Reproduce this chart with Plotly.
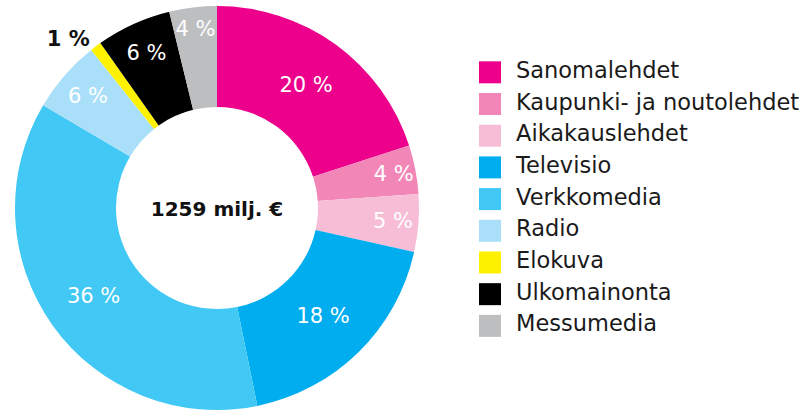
import plotly.graph_objects as go

categories = ["Sanomalehdet", "Kaupunki- ja noutolehdet", "Aikakauslehdet", "Televisio",
              "Verkkomedia", "Radio", "Elokuva", "Ulkomainonta", "Messumedia"]
shares = [20.0, 3.9, 4.6, 18.3, 36.7, 5.8, 0.9, 6.0, 3.8]
share_labels = ["20 %", "4 %", "5 %", "18 %", "36 %", "6 %", "1 %", "6 %", "4 %"]
colors = ["#EC008C", "#F287B7", "#F8BDD6", "#00AEEF", "#41C8F5", "#A9DFF9",
          "#FFF200", "#000000", "#BCBEC0"]
center_label = "1259 milj. €"

FONT = "'DejaVu Sans', sans-serif"
W, H = 804, 416

text_pos = ["outside" if s < 2 else "inside" for s in shares]
text_col = ["#111111" if p == "outside" else "white" for p in text_pos]
text_wt = [700 if p == "outside" else 400 for p in text_pos]

fig = go.Figure()
fig.add_trace(go.Pie(
    labels=categories, values=shares, text=share_labels,
    textinfo="text", sort=False, direction="clockwise", rotation=0,
    hole=0.5, marker=dict(colors=colors, line=dict(width=0)),
    textposition=text_pos, insidetextorientation="horizontal",
    textfont=dict(family=FONT, size=21, color=text_col, weight=text_wt),
    title=dict(text=center_label, position="middle center",
               font=dict(family=FONT, size=20, color="#111111", weight=700)),
    domain=dict(x=[15/W, 419/W], y=[4/H, 412/H]),
    showlegend=False, hoverinfo="label+text",
))

# legend: square markers and their names, placed on a hidden axis
idx = list(range(len(categories)))
fig.add_trace(go.Scatter(
    x=[0]*len(categories), y=idx, mode="markers", cliponaxis=False,
    marker=dict(symbol="square", size=22, color=colors, line=dict(width=0)),
    hoverinfo="skip", showlegend=False,
))
fig.add_trace(go.Scatter(
    x=[1]*len(categories), y=idx, mode="text", cliponaxis=False,
    text=categories, textposition="middle right",
    textfont=dict(family=FONT, size=22.5, color="#1a1a1a"),
    hoverinfo="skip", showlegend=False,
))

fig.update_layout(
    width=W, height=H, margin=dict(l=0, r=0, t=0, b=0),
    paper_bgcolor="white", plot_bgcolor="white",
    uniformtext=dict(minsize=21, mode="show"),
    xaxis=dict(domain=[490/W, 1], range=[0, (W-490)/26], visible=False, fixedrange=True),
    yaxis=dict(domain=[0, 1], range=[H/32 - 71/32, -71/32], visible=False, fixedrange=True),
)

fig.write_html("out.html", config={"displayModeBar": False},
               post_script="document.body.style.margin='0';document.body.style.overflow='hidden';")
